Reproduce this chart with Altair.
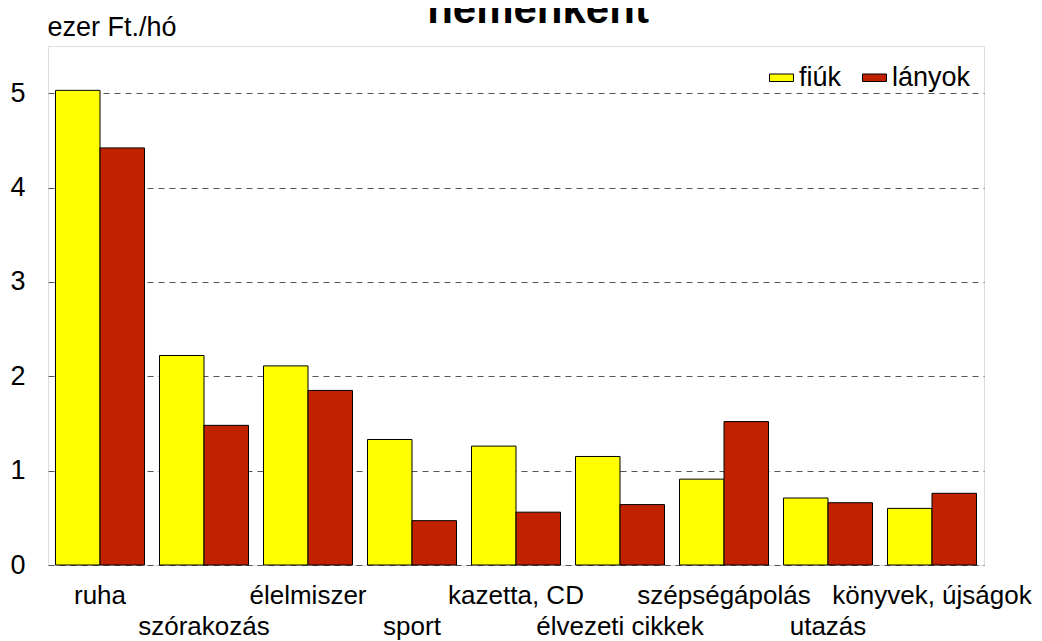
import json
import altair as alt
import pandas as pd

categories = ["ruha", "szórakozás", "élelmiszer", "sport", "kazetta, CD",
              "élvezeti cikkek", "szépségápolás", "utazás", "könyvek, újságok"]
fiuk = [5.03, 2.22, 2.11, 1.33, 1.26, 1.15, 0.91, 0.71, 0.60]
lanyok = [4.42, 1.48, 1.85, 0.47, 0.56, 0.64, 1.52, 0.66, 0.76]
series = ["fiúk", "lányok"]
colors = ["#FFFF00", "#C02200"]
y_ticks = [0, 1, 2, 3, 4, 5]
title_text = "nemenként"
y_title = "ezer Ft./hó"

rows = []
for c, f, l in zip(categories, fiuk, lanyok):
    rows.append({"kat": c, "nem": series[0], "ertek": f})
    rows.append({"kat": c, "nem": series[1], "ertek": l})
df = pd.DataFrame(rows)

odd_cats = categories[1::2]
label_expr = ("indexof(" + json.dumps(odd_cats, ensure_ascii=False) +
              ", datum.value) >= 0 ? ['', datum.value] : datum.value")

FONT = "Liberation Sans"
FS = 27

bars = alt.Chart(df).mark_bar(stroke="black", strokeWidth=1).encode(
    x=alt.X("kat:N", sort=categories,
            scale=alt.Scale(paddingInner=0.144, paddingOuter=0.072),
            axis=alt.Axis(title=None, labelAngle=0, labelExpr=label_expr,
                          labelFont=FONT, labelFontSize=26, labelColor="black",
                          labelLineHeight=31, labelPadding=17, labelOverlap=False,
                          labelLimit=0, ticks=False, domain=False, grid=False)),
    xOffset=alt.XOffset("nem:N", sort=series),
    y=alt.Y("ertek:Q", scale=alt.Scale(domain=[0, 5.5], nice=False),
            axis=alt.Axis(values=y_ticks, title=y_title, titleAngle=0,
                          titleAlign="left", titleBaseline="alphabetic",
                          titleX=-1, titleY=-11, titleFont=FONT,
                          titleFontSize=FS, titleFontWeight="normal",
                          titleColor="black",
                          labelFont=FONT, labelFontSize=FS, labelColor="black",
                          labelPadding=23, ticks=False, domain=False,
                          grid=True, gridColor="#555", gridDash=[6, 5],
                          gridWidth=1)),
    color=alt.Color("nem:N", sort=series,
                    scale=alt.Scale(domain=series, range=colors),
                    legend=alt.Legend(title=None, orient="none",
                                      legendX=720, legendY=18,
                                      direction="horizontal",
                                      symbolType="M-1,-0.3125H1V0.3125H-1Z",
                                      symbolSize=576, symbolStrokeColor="black",
                                      symbolStrokeWidth=1, symbolOpacity=1,
                                      labelFont=FONT, labelFontSize=FS,
                                      labelColor="black", labelOffset=4,
                                      columnPadding=18, padding=0)),
)

title = alt.Chart(pd.DataFrame({"t": [title_text]})).mark_text(
    font=FONT, fontSize=42, fontWeight="bold", color="black",
    align="center", baseline="alphabetic"
).encode(text="t:N", x=alt.value(490), y=alt.value(-23))

chart = alt.layer(bars, title).properties(
    width=936, height=519,
    autosize=alt.AutoSizeParams(type="none"),
    padding={"left": 40, "top": 38, "right": 50, "bottom": 78},
).configure_view(stroke="#333", strokeWidth=1.5).configure(background="white")

chart.save("out.html", embed_options={"renderer": "svg", "actions": False})
